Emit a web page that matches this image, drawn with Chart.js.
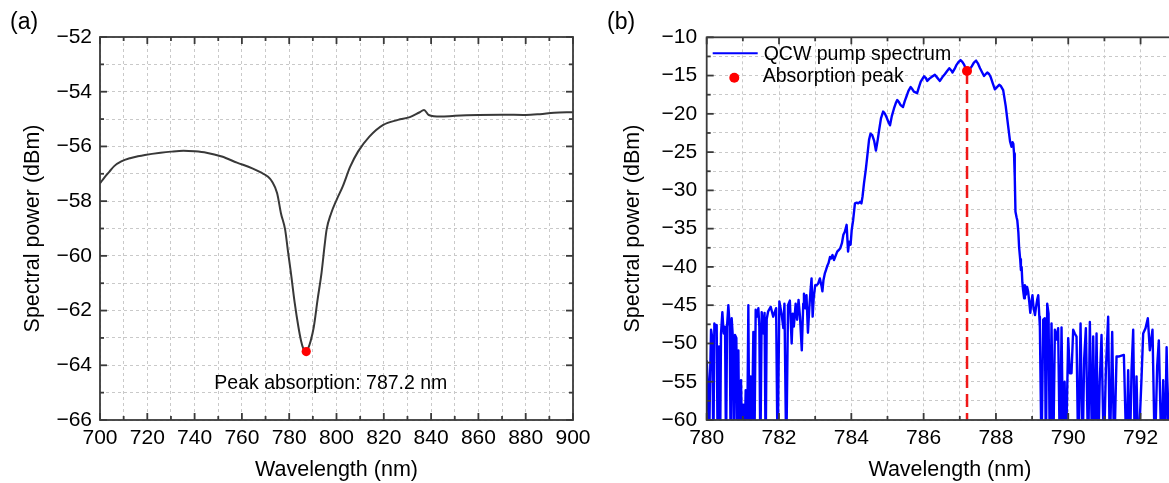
<!DOCTYPE html>
<html><head><meta charset="utf-8">
<script src="https://cdn.jsdelivr.net/npm/chart.js@4.4.1/dist/chart.umd.min.js"></script>
<style>
html,body{margin:0;padding:0;overflow:hidden;background:#fff;width:1169px;height:483px;}
#wrap{position:relative;width:1169px;height:483px;overflow:hidden;}
canvas{position:absolute;top:0;}
#ca{left:0;} #cb{left:600px;}
.plabel{position:absolute;font-family:'Liberation Sans',Arial,sans-serif;font-size:23px;line-height:1;color:#000;}
</style></head><body>
<div id="wrap">
<canvas id="ca" width="600" height="483"></canvas>
<canvas id="cb" width="600" height="483"></canvas>
<div class="plabel" style="left:10px;top:10px">(a)</div>
<div class="plabel" style="left:607px;top:10px">(b)</div>
</div>
<script>
// ---------- Panel (a): transmission spectrum ----------
const absWavelength = [700,702,704,706,709,712.7,716,719,725.6,730,735.3,740,745,751.5,757.9,764.4,768,770.9,772.8,774.9,776.5,778.3,779.4,780.7,782.3,783.9,785,786,786.8,787.9,789.1,790.4,792,793.7,795,795.8,797.7,800,802.6,805.8,809.1,813.9,819.6,826,831,835,837,839,844,850,860,870,880,886,892,900];
const absPower = [-57.35,-57.12,-56.92,-56.72,-56.55,-56.43,-56.36,-56.31,-56.23,-56.19,-56.16,-56.18,-56.23,-56.37,-56.59,-56.8,-56.95,-57.1,-57.29,-57.71,-58.44,-59.05,-59.78,-60.6,-61.7,-62.6,-63.1,-63.4,-63.5,-63.4,-63.1,-62.6,-61.6,-60.6,-59.6,-59.05,-58.45,-57.96,-57.47,-56.74,-56.19,-55.64,-55.22,-55.03,-54.93,-54.76,-54.67,-54.85,-54.91,-54.88,-54.85,-54.84,-54.85,-54.82,-54.77,-54.75];
const absPeakWavelength = [787.2];
const absPeakPower = [-63.5];
const absNote = ["Peak absorption: 787.2 nm"];
const absNotePos = [797.6, -64.68];
const absXRange = [700, 900, 10, 20];   // min, max, minor step, labelled step
const absYRange = [-66, -52, 1, 2];

// ---------- Panel (b): QCW pump spectrum ----------
const pumpSpectrum = [
[780.000,-52.2],[780.028,-54.8],[780.065,-65],[780.092,-54.8],[780.120,-48.2],[780.157,-49.3],[780.184,-65],[780.212,-47.4],[780.249,-47.8],[780.276,-47.6],
[780.304,-65],[780.341,-50.4],[780.369,-65],[780.396,-48.7],[780.433,-45.9],[780.470,-48.7],[780.507,-47.8],[780.535,-65],[780.562,-47.8],[780.599,-45.0],
[780.636,-47.8],[780.664,-65],[780.691,-46.7],[780.728,-49.5],[780.756,-65],[780.783,-48.9],[780.820,-49.3],[780.848,-65],[780.876,-50.9],[780.903,-65],
[780.949,-54.8],[780.986,-65],[781.015,-58.0],[781.041,-65],[781.078,-56.1],[781.115,-65],[781.152,-45.0],[781.180,-65],[781.217,-54.3],[781.244,-65],
[781.290,-48.5],[781.318,-65],[781.355,-45.6],[781.392,-46.5],[781.429,-45.4],[781.456,-47.8],[781.484,-65],[781.521,-45.9],[781.567,-48.7],[781.600,-46.0],
[781.630,-65],[781.660,-46.8],[781.700,-45.8],[781.770,-45.2],[781.840,-46.5],[781.920,-45.4],[781.960,-65],[782.010,-44.5],[782.070,-46.1],[782.120,-48.0],
[782.150,-44.8],[782.200,-65],[782.250,-45.0],[782.300,-44.4],[782.350,-50.0],[782.380,-46.1],[782.410,-47.8],[782.460,-44.8],[782.500,-46.9],[782.540,-44.3],
[782.580,-46.5],[782.630,-50.9],[782.670,-44.8],[782.690,-43.5],[782.720,-45.4],[782.760,-43.7],[782.800,-48.6],[782.840,-45.2],[782.870,-43.2],[782.900,-41.5],
[782.930,-46.5],[782.960,-44.0],[783.000,-42.4],[783.040,-42.4],[783.080,-42.2],[783.130,-41.5],[783.180,-42.6],[783.200,-43.2],[783.230,-41.7],[783.270,-40.8],
[783.300,-40.4],[783.340,-39.8],[783.370,-39.5],[783.410,-38.7],[783.440,-38.9],[783.480,-38.45],[783.520,-39.1],[783.560,-38.6],[783.610,-38.0],[783.650,-37.8],
[783.690,-37.6],[783.740,-36.9],[783.780,-35.8],[783.820,-35.4],[783.870,-34.5],[783.910,-38.0],[783.940,-36.7],[783.980,-37.1],[784.010,-35.2],[784.050,-33.9],
[784.100,-31.7],[784.150,-31.6],[784.190,-31.7],[784.240,-31.5],[784.280,-31.7],[784.310,-30.8],[784.350,-29.1],[784.400,-27.3],[784.440,-25.6],[784.490,-23.4],
[784.530,-22.6],[784.580,-22.8],[784.630,-23.5],[784.680,-24.8],[784.730,-23.4],[784.770,-22.1],[784.820,-20.6],[784.880,-19.7],[784.930,-20.0],[784.970,-20.4],
[785.020,-21.0],[785.070,-21.5],[785.120,-20.3],[785.180,-19.3],[785.230,-18.6],[785.270,-18.2],[785.320,-18.5],[785.360,-18.85],[785.430,-19.1],[785.480,-18.3],
[785.520,-17.8],[785.580,-17.0],[785.640,-16.5],[785.690,-16.8],[785.730,-17.1],[785.820,-17.3],[785.870,-16.5],[785.920,-15.8],[786.010,-15.1],[786.060,-15.3],
[786.100,-15.7],[786.160,-15.4],[786.220,-15.2],[786.310,-14.9],[786.380,-15.3],[786.450,-15.7],[786.520,-15.2],[786.590,-14.8],[786.650,-14.4],[786.710,-14.05],
[786.760,-14.3],[786.800,-14.6],[786.860,-14.1],[786.910,-13.6],[786.970,-13.2],[787.020,-12.97],[787.070,-13.2],[787.110,-13.5],[787.160,-14.0],[787.200,-14.4],
[787.270,-14.2],[787.330,-13.8],[787.390,-13.3],[787.450,-13.05],[787.500,-13.4],[787.560,-14.05],[787.620,-14.6],[787.670,-15.05],[787.720,-14.8],[787.760,-14.6],
[787.810,-14.8],[787.850,-15.15],[787.910,-16.0],[787.970,-16.8],[788.030,-16.5],[788.090,-16.2],[788.140,-16.4],[788.200,-16.9],[788.270,-19.0],[788.340,-21.7],
[788.390,-23.6],[788.430,-24.3],[788.460,-23.7],[788.480,-23.9],[788.500,-25.2],[788.520,-28.2],[788.540,-32.8],[788.570,-33.5],[788.590,-33.9],[788.620,-35.5],
[788.640,-37.4],[788.670,-39.0],[788.690,-40.4],[788.710,-40.0],[788.730,-42.0],[788.750,-43.0],[788.780,-44.1],[788.800,-42.4],[788.830,-43.6],[788.860,-42.6],
[788.890,-43.2],[788.920,-44.5],[788.950,-46.0],[788.980,-44.6],[789.010,-43.7],[789.040,-45.3],[789.080,-46.3],[789.110,-45.2],[789.140,-44.3],[789.170,-43.7],
[789.200,-46.5],[789.215,-47.8],[789.260,-65],[789.307,-46.9],[789.353,-46.7],[789.380,-65],[789.418,-44.8],[789.455,-46.1],[789.490,-65],[789.537,-47.4],
[789.584,-65],[789.630,-48.2],[789.676,-49.5],[789.720,-48.0],[789.768,-65],[789.814,-47.9],[789.860,-65],[789.900,-55.0],[789.934,-65],[789.998,-49.3],
[790.044,-53.9],[790.090,-53.9],[790.136,-48.2],[790.180,-48.7],[790.229,-49.1],[790.275,-65],[790.340,-47.4],[790.395,-65],[790.440,-52.0],[790.487,-48.0],
[790.551,-65],[790.597,-47.2],[790.662,-65],[790.690,-49.1],[790.736,-65],[790.782,-48.7],[790.828,-65],[790.870,-55.0],[790.920,-48.9],[790.984,-65],
[791.040,-53.5],[791.104,-46.5],[791.150,-65],[791.215,-48.5],[791.270,-65],[791.335,-51.7],[791.410,-51.7],[791.473,-51.6],[791.538,-51.5],[791.611,-65],
[791.657,-53.5],[791.703,-65],[791.750,-53.5],[791.796,-48.2],[791.842,-65],[791.888,-54.3],[791.934,-65],[792.026,-54.6],[792.072,-48.7],[792.137,-48.0],
[792.201,-46.7],[792.256,-50.9],[792.330,-48.2],[792.394,-65],[792.459,-53.0],[792.505,-49.6],[792.578,-65],[792.625,-54.8],[792.670,-65],[792.720,-50.5],
[792.780,-65],[792.840,-49.0],[792.900,-65],[793.000,-52.0],[793.100,-65],[793.200,-50.0],[793.300,-65],[793.450,-51.0]
];
const pumpPeakWavelength = [787.2];
const pumpPeakPower = [-14.4];
const pumpLabels = ["QCW pump spectrum", "Absorption peak"];
const pumpXRange = [780, 793.45, 1, 2];
const pumpYRange = [-60, -10, 2.5, 5];

const axisTitles = ["Wavelength (nm)", "Spectral power (dBm)"];

// ---------- helpers ----------
const FONT = "'Liberation Sans', Arial, Helvetica, sans-serif";
Chart.defaults.font.family = FONT;
Chart.defaults.font.size = 21;
Chart.defaults.color = '#000';
const isMaj = (v, s) => Math.abs(v / s - Math.round(v / s)) < 1e-6;
const fmt = v => { const r = Math.round(v * 100) / 100; return (r < 0 ? '\u2212' : '') + Math.abs(r); };

const frameTicks = {
  id: 'frameTicks',
  afterDraw(chart, args, o) {
    const {ctx, chartArea: a, scales: {x, y}} = chart;
    ctx.save();
    ctx.strokeStyle = '#3a3a3a';
    ctx.lineWidth = 1.8;
    const seg = (x1, y1, x2, y2) => { ctx.beginPath(); ctx.moveTo(x1, y1); ctx.lineTo(x2, y2); ctx.stroke(); };
    x.ticks.forEach(t => {
      if (t.value < x.min || t.value > x.max) return;
      const p = x.getPixelForValue(t.value);
      const L = isMaj(t.value, o.xMajor) ? 7 : 4;
      seg(p, a.bottom, p, a.bottom - L); seg(p, a.top, p, a.top + L);
    });
    y.ticks.forEach(t => {
      const p = y.getPixelForValue(t.value);
      const L = isMaj(t.value, o.yMajor) ? 7 : 4;
      seg(a.left, p, a.left + L, p); seg(a.right, p, a.right - L, p);
    });
    ctx.strokeRect(a.left, a.top, a.right - a.left, a.bottom - a.top);
    ctx.restore();
  }
};

const noteText = {
  id: 'noteText',
  afterDatasetsDraw(chart, args, o) {
    if (!o.text) return;
    const {ctx, scales: {x, y}} = chart;
    ctx.save();
    ctx.font = '19.5px ' + FONT;
    ctx.fillStyle = '#000';
    ctx.textAlign = 'center';
    ctx.textBaseline = 'middle';
    ctx.fillText(o.text, x.getPixelForValue(o.x), y.getPixelForValue(o.y));
    ctx.restore();
  }
};

const innerLegend = {
  id: 'innerLegend',
  afterDraw(chart, args, o) {
    if (!o.show) return;
    const {ctx, chartArea: a} = chart;
    const ds = chart.data.datasets;
    const line = ds.find(d => d.label === pumpLabels[0]);
    const dot = ds.find(d => d.label === pumpLabels[1]);
    ctx.save();
    ctx.font = '19.5px ' + FONT;
    ctx.fillStyle = '#000';
    ctx.textBaseline = 'middle';
    ctx.textAlign = 'left';
    const r1 = a.top + 16, r2 = a.top + 39.5;
    ctx.strokeStyle = line.borderColor; ctx.lineWidth = 2;
    ctx.beginPath(); ctx.moveTo(a.left + 6, r1); ctx.lineTo(a.left + 51, r1); ctx.stroke();
    ctx.fillText(line.label, a.left + 57, r1 + 1);
    ctx.fillStyle = dot.backgroundColor;
    ctx.beginPath(); ctx.arc(a.left + 27.6, r2 + 1, dot.pointRadius, 0, Math.PI * 2); ctx.fill();
    ctx.fillStyle = '#000';
    ctx.fillText(dot.label, a.left + 56, r2);
    ctx.restore();
  }
};

function axes(xr, yr, yWidth, yTickPad) {
  return {
    x: {
      type: 'linear', min: xr[0], max: xr[1],
      grid: {color: '#c9c9c9', lineWidth: 1, drawTicks: false},
      border: {display: false, dash: [3, 3]},
      ticks: {stepSize: xr[2], autoSkip: false, maxRotation: 0, padding: 6, maxTicksLimit: 300,
        callback: v => isMaj(v, xr[3]) ? fmt(v) : ''},
      title: {display: true, text: axisTitles[0], font: {size: 21.5}, padding: {top: 0, bottom: 0}},
      afterFit: s => { s.height = 63; }
    },
    y: {
      type: 'linear', min: yr[0], max: yr[1],
      grid: {color: '#c9c9c9', lineWidth: 1, drawTicks: false},
      border: {display: false, dash: [3, 3]},
      ticks: {stepSize: yr[2], autoSkip: false, padding: yTickPad, maxTicksLimit: 300,
        callback: v => isMaj(v, yr[3]) ? fmt(v) : ''},
      title: {display: true, text: axisTitles[1], font: {size: 21.5}, padding: {top: 20, bottom: 0}},
      afterFit: s => { s.width = yWidth; }
    }
  };
}

const common = {
  responsive: false, maintainAspectRatio: false, devicePixelRatio: 1, animation: false,
  events: [],
  elements: {point: {radius: 0}, line: {borderCapStyle: 'butt', borderJoinStyle: 'round'}}
};

// Panel (a)
new Chart(document.getElementById('ca'), {
  type: 'line',
  data: {
    datasets: [
      {label: 'Absorption peak', data: absPeakWavelength.map((x, i) => ({x, y: absPeakPower[i]})),
       showLine: false, pointRadius: 4.6, pointBackgroundColor: '#ff0000', backgroundColor: '#ff0000', pointBorderWidth: 0},
      {label: 'Transmission', data: absWavelength.map((x, i) => ({x, y: absPower[i]})),
       borderColor: '#383838', borderWidth: 2, pointRadius: 0, cubicInterpolationMode: 'monotone', tension: 0.4}
    ]
  },
  options: Object.assign({}, common, {
    layout: {padding: {left: 0, right: 27, top: 37, bottom: 0}},
    scales: axes(absXRange, absYRange, 100, 8),
    plugins: {legend: {display: false}, tooltip: {enabled: false},
      frameTicks: {xMajor: absXRange[3], yMajor: absYRange[3]},
      noteText: {text: absNote[0], x: absNotePos[0], y: absNotePos[1]},
      innerLegend: {show: false}}
  }),
  plugins: [frameTicks, noteText, innerLegend]
});

// Panel (b)
new Chart(document.getElementById('cb'), {
  type: 'line',
  data: {
    datasets: [
      {label: pumpLabels[1], data: pumpPeakWavelength.map((x, i) => ({x, y: pumpPeakPower[i]})),
       showLine: false, pointRadius: 5, pointBackgroundColor: '#ff0000', backgroundColor: '#ff0000', pointBorderWidth: 0},
      {label: pumpLabels[0], data: pumpSpectrum.map(p => ({x: p[0], y: p[1]})),
       borderColor: '#0000ff', borderWidth: 2.4, pointRadius: 0, tension: 0},
      {label: 'Peak marker', data: [{x: pumpPeakWavelength[0], y: pumpPeakPower[0]}, {x: pumpPeakWavelength[0], y: pumpYRange[0]}],
       borderColor: '#f01818', borderWidth: 2.5, borderDash: [13, 6], pointRadius: 0}
    ]
  },
  options: Object.assign({}, common, {
    layout: {padding: {left: 0, right: 7, top: 37.3, bottom: 0}},
    scales: axes(pumpXRange, pumpYRange, 106.7, 9.5),
    plugins: {legend: {display: false}, tooltip: {enabled: false},
      frameTicks: {xMajor: pumpXRange[3], yMajor: pumpYRange[3]},
      noteText: {text: ''},
      innerLegend: {show: true}}
  }),
  plugins: [frameTicks, noteText, innerLegend]
});
</script>
</body></html>
